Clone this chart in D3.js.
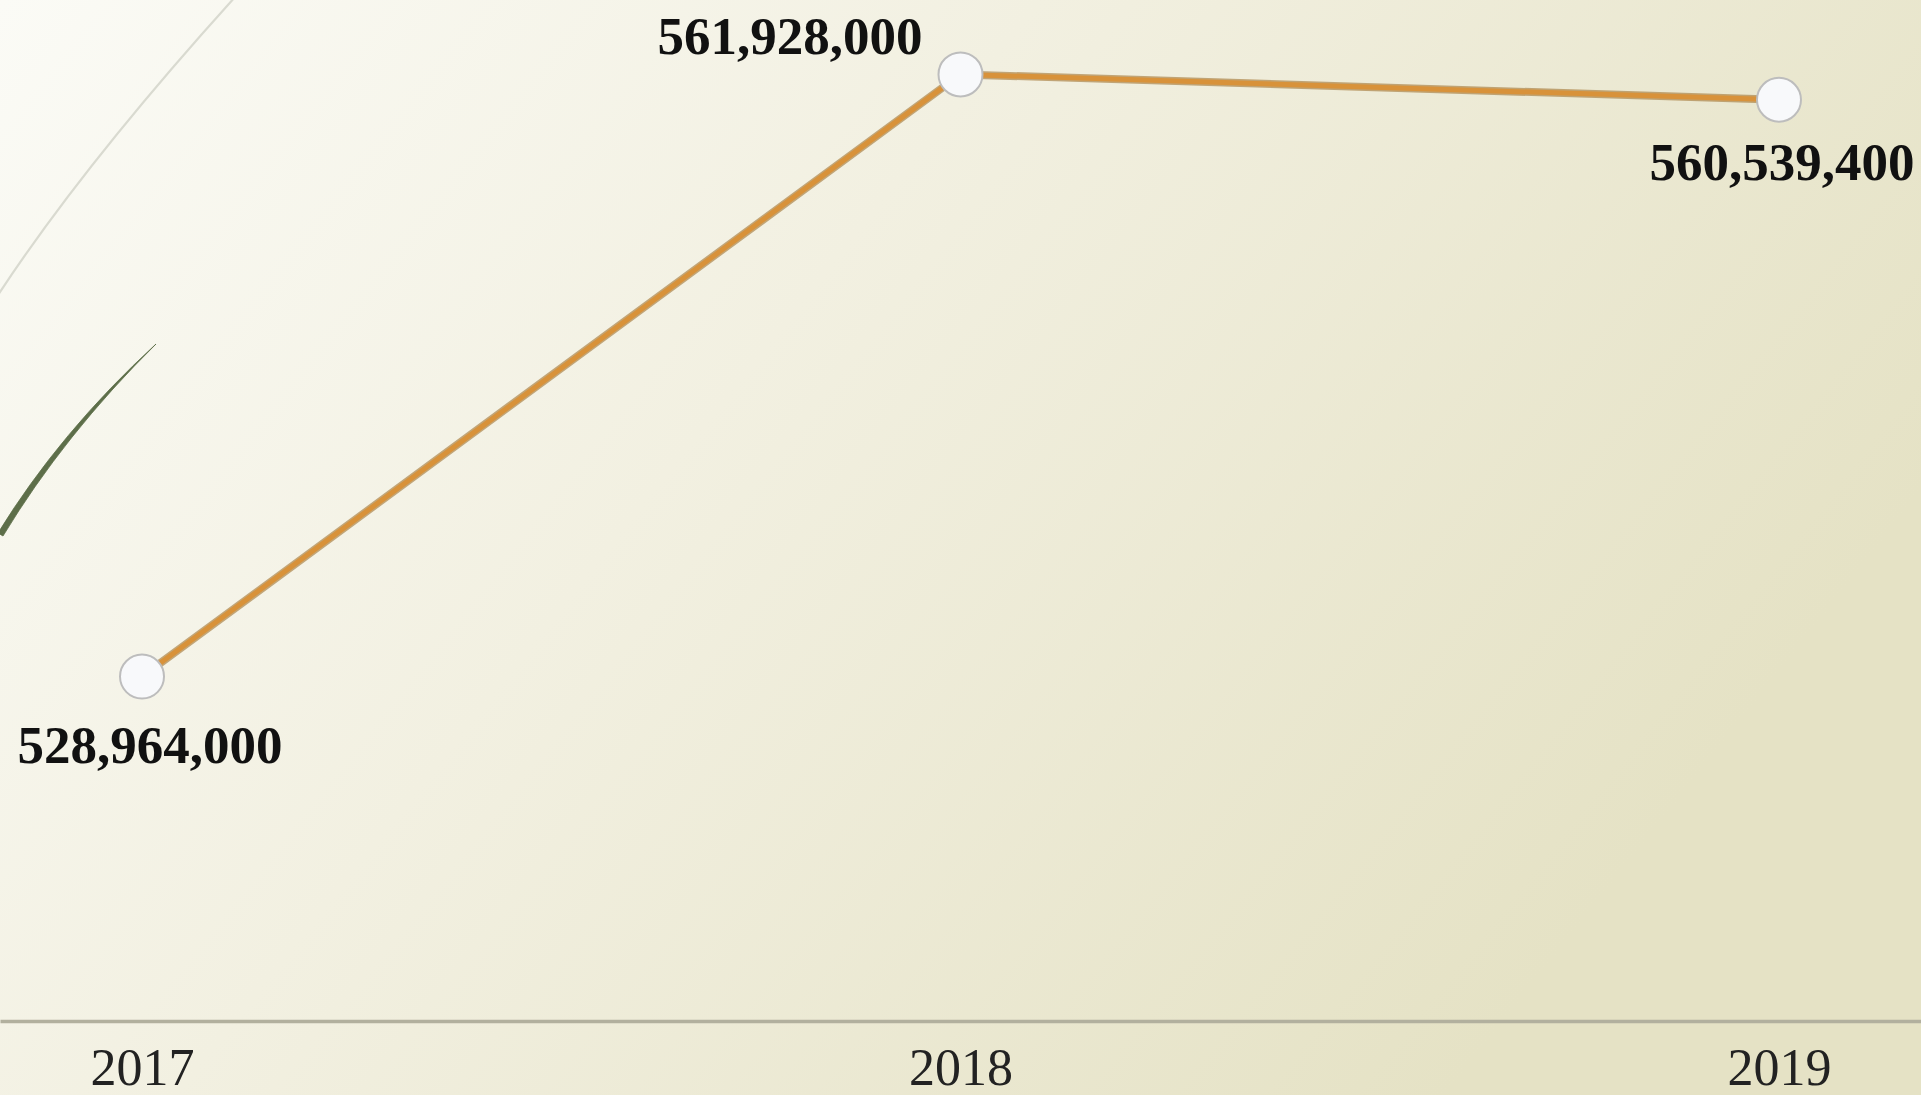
<!DOCTYPE html>
<html>
<head>
<meta charset="utf-8">
<script src="https://cdn.jsdelivr.net/npm/d3@7"></script>
<style>
  html, body { margin: 0; padding: 0; overflow: hidden; background: #f4f2e4; }
  svg { display: block; }
</style>
</head>
<body>
<svg id="chart" width="1921" height="1095"></svg>
<script>
// ---- data ----
const years = ["2017", "2018", "2019"];
const values = [528964000, 561928000, 560539400];
const labelPlacement = ["below", "above-left", "below"];

const W = 1921, H = 1095;
const svg = d3.select("#chart");

// background gradient
const defs = svg.append("defs");
const grad = defs.append("linearGradient").attr("id", "bg")
  .attr("x1", "0").attr("y1", "0").attr("x2", "1").attr("y2", "0.45");
grad.append("stop").attr("offset", "0").attr("stop-color", "#fbfbf6");
grad.append("stop").attr("offset", "0.45").attr("stop-color", "#f2f0e1");
grad.append("stop").attr("offset", "1").attr("stop-color", "#e5e2c5");
svg.append("rect").attr("width", W).attr("height", H).attr("fill", "url(#bg)");

// decorative arcs (theme ornaments)
svg.append("path")
  .attr("d", "M-4,298 Q83,165 236,-4")
  .attr("fill", "none").attr("stroke", "#d9dad0").attr("stroke-width", 2.2);
svg.append("path")
  .attr("d", "M-2,533 Q60,432 156,344 Q64,435 3,536 Z")
  .attr("fill", "#5d6e49").attr("stroke", "#5d6e49").attr("stroke-width", 0.8);

// scales
const x = d3.scalePoint().domain(years).range([0, W]).padding(0.1735);
const y = d3.scaleLinear().domain([510000000, 566000000]).range([1023, 0]);

// axis
const axis = svg.append("g")
  .attr("transform", `translate(0,${y(510000000) - 2})`)
  .call(d3.axisBottom(x).tickSize(0).tickSizeOuter(0));
axis.select(".domain").attr("stroke", "#b2b09e").attr("stroke-width", 3.5);
axis.selectAll(".tick text")
  .attr("y", 64).attr("dy", 0)
  .attr("font-family", "'Liberation Serif', 'Times New Roman', serif")
  .attr("font-size", 52)
  .attr("fill", "#222");

// line
const pts = years.map((yr, i) => ({ yr, v: values[i], pos: labelPlacement[i] }));
const line = d3.line().x(d => x(d.yr)).y(d => y(d.v));
svg.append("path").datum(pts).attr("d", line)
  .attr("fill", "none").attr("stroke", "#ad8548").attr("stroke-opacity", 0.7)
  .attr("stroke-width", 8).attr("stroke-linejoin", "round");
svg.append("path").datum(pts).attr("d", line)
  .attr("fill", "none").attr("stroke", "#d8923a")
  .attr("stroke-width", 5).attr("stroke-linejoin", "round");

// markers
svg.selectAll("circle.pt").data(pts).join("circle")
  .attr("class", "pt")
  .attr("cx", d => x(d.yr)).attr("cy", d => y(d.v)).attr("r", 22)
  .attr("fill", "#f8f9fb").attr("stroke", "#bdbdbd").attr("stroke-width", 2);

// labels
const fmt = d3.format(",");
svg.selectAll("text.lbl").data(pts).join("text")
  .attr("class", "lbl")
  .attr("x", d => d.pos === "above-left" ? x(d.yr) - 38 : x(d.yr) + (d.yr === "2017" ? 8 : 3))
  .attr("y", d => d.pos === "above-left" ? y(d.v) - 20 : y(d.v) + (d.yr === "2017" ? 86 : 80))
  .attr("text-anchor", d => d.pos === "above-left" ? "end" : "middle")
  .attr("font-family", "'Liberation Serif', 'Times New Roman', serif")
  .attr("font-weight", "bold")
  .attr("font-size", 53)
  .attr("fill", "#111")
  .text(d => fmt(d.v));
</script>
</body>
</html>
